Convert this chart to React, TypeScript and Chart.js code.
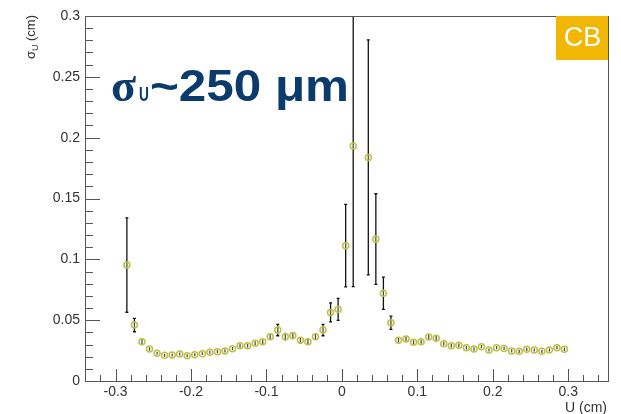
import { useEffect, useRef } from 'react';
import { Chart, registerables } from 'chart.js';

Chart.register(...registerables);

// ---- data ----
const uCenters = [
  -0.285, -0.275, -0.265, -0.255, -0.245, -0.235, -0.225, -0.215, -0.205, -0.195,
  -0.185, -0.175, -0.165, -0.155, -0.145, -0.135, -0.125, -0.115, -0.105, -0.095,
  -0.085, -0.075, -0.065, -0.055, -0.045, -0.035, -0.025, -0.015, -0.005, 0.005,
  0.015, 0.025, 0.035, 0.045, 0.055, 0.065, 0.075, 0.085, 0.095, 0.105,
  0.115, 0.125, 0.135, 0.145, 0.155, 0.165, 0.175, 0.185, 0.195, 0.205,
  0.215, 0.225, 0.235, 0.245, 0.255, 0.265, 0.275, 0.285, 0.295,
];
const sigmaU: (number | null)[] = [
  0.0953, 0.046, 0.0323, 0.0263, 0.0228, 0.0211, 0.0214, 0.0222, 0.0208, 0.0216,
  0.0225, 0.0236, 0.0241, 0.0247, 0.0266, 0.029, 0.029, 0.031, 0.0323, 0.0364,
  0.0419, 0.0364, 0.0373, 0.0334, 0.0323, 0.0364, 0.0419, 0.0564, 0.0589, 0.1112,
  0.1931, null, 0.1838, 0.1167, 0.0721, 0.0479, 0.0334, 0.0345, 0.0318, 0.0323,
  0.0362, 0.0351, 0.0307, 0.029, 0.0293, 0.0274, 0.0263, 0.0282, 0.0255, 0.0274,
  0.0268, 0.0247, 0.0244, 0.026, 0.0255, 0.0244, 0.0255, 0.0274, 0.026,
];
const sigmaErr = [
  0.0388, 0.0055, 0.002, 0.0015, 0.0012, 0.0012, 0.0012, 0.0012, 0.0012, 0.0012,
  0.0012, 0.0012, 0.0013, 0.0013, 0.0014, 0.0016, 0.0016, 0.0017, 0.0018, 0.0027,
  0.0047, 0.0033, 0.003, 0.0025, 0.0025, 0.0025, 0.0047, 0.0078, 0.009, 0.0339,
  0.1156, 0, 0.0966, 0.0372, 0.0133, 0.0054, 0.002, 0.002, 0.0017, 0.0017,
  0.002, 0.002, 0.0016, 0.0015, 0.0015, 0.0014, 0.0014, 0.0014, 0.0013, 0.0013,
  0.0013, 0.0013, 0.0013, 0.0013, 0.0013, 0.0013, 0.0013, 0.0014, 0.0014,
];
const xTickValues = [-0.3, -0.2, -0.1, 0, 0.1, 0.2, 0.3];
const yTickValues = [0, 0.05, 0.1, 0.15, 0.2, 0.25, 0.3];
const X_MIN = -0.3405;
const X_MAX = 0.3527;
const Y_MIN = 0;
const Y_MAX = 0.3;
const X_MINOR_STEP = 0.02;
const Y_MINOR_STEP = 0.01;

const FONT = '"Liberation Sans", Arial, Helvetica, sans-serif';
const AXIS_COLOR = '#555';
const TEXT_COLOR = '#333';

const fmt = (v: number) => {
  const r = Math.round(v * 1000) / 1000;
  return (Object.is(r, -0) ? 0 : r).toString();
};

const rootPlugin = {
  id: 'rootStyle',
  beforeDatasetsDraw(chart: any) {
    const ctx = chart.ctx as CanvasRenderingContext2D;
    const xs = chart.scales.x;
    const ys = chart.scales.y;
    const a = chart.chartArea;
    // error bars
    ctx.save();
    ctx.beginPath();
    ctx.rect(a.left, a.top, a.right - a.left, a.bottom - a.top);
    ctx.clip();
    ctx.strokeStyle = '#111';
    ctx.lineWidth = 1.3;
    uCenters.forEach((u, i) => {
      const v = sigmaU[i];
      if (v == null) return;
      const e = sigmaErr[i];
      const px = xs.getPixelForValue(u);
      const pHi = ys.getPixelForValue(v + e);
      const pLo = ys.getPixelForValue(v - e);
      ctx.beginPath();
      ctx.moveTo(px, pHi);
      ctx.lineTo(px, pLo);
      ctx.stroke();
      if (e > 0.004) {
        ctx.beginPath();
        ctx.moveTo(px - 1.5, pHi);
        ctx.lineTo(px + 1.5, pHi);
        ctx.moveTo(px - 1.5, pLo);
        ctx.lineTo(px + 1.5, pLo);
        ctx.stroke();
      }
    });
    ctx.restore();
  },
  afterDraw(chart: any) {
    const ctx = chart.ctx as CanvasRenderingContext2D;
    const xs = chart.scales.x;
    const ys = chart.scales.y;
    const a = chart.chartArea;
    ctx.save();
    // frame
    ctx.strokeStyle = AXIS_COLOR;
    ctx.lineWidth = 1;
    ctx.strokeRect(Math.round(a.left) + 0.5, Math.round(a.top) + 0.5, Math.round(a.right - a.left), Math.round(a.bottom - a.top));
    // x ticks (inside, pointing up)
    ctx.beginPath();
    const xStart = Math.ceil(X_MIN / X_MINOR_STEP) * X_MINOR_STEP;
    for (let v = xStart; v <= X_MAX + 1e-9; v += X_MINOR_STEP) {
      const isMajor = xTickValues.some((t) => Math.abs(t - v) < 1e-6);
      const px = Math.round(xs.getPixelForValue(v)) + 0.5;
      ctx.moveTo(px, a.bottom);
      ctx.lineTo(px, a.bottom - (isMajor ? 12 : 6));
    }
    // y ticks (inside, pointing right)
    for (let v = Y_MIN; v <= Y_MAX + 1e-9; v += Y_MINOR_STEP) {
      const isMajor = yTickValues.some((t) => Math.abs(t - v) < 1e-6);
      const py = Math.round(ys.getPixelForValue(v)) + 0.5;
      ctx.moveTo(a.left, py);
      ctx.lineTo(a.left + (isMajor ? 15 : 8), py);
    }
    ctx.stroke();

    // axis titles
    ctx.fillStyle = TEXT_COLOR;
    ctx.textBaseline = 'alphabetic';
    ctx.textAlign = 'right';
    ctx.font = `14px ${FONT}`;
    ctx.fillText('U (cm)', a.right - 1, 412);

    // y title rotated: σ_U (cm)
    ctx.save();
    ctx.translate(35, 15);
    ctx.rotate(-Math.PI / 2);
    ctx.textAlign = 'left';
    ctx.font = `13px ${FONT}`;
    const wSig = ctx.measureText('σ').width;
    ctx.font = `9px ${FONT}`;
    const wU = ctx.measureText('U').width;
    ctx.font = `13px ${FONT}`;
    const wRest = ctx.measureText(' (cm)').width;
    const total = wSig + wU + wRest;
    let x0 = -total;
    ctx.fillText('σ', x0, 0);
    x0 += wSig;
    ctx.font = `9px ${FONT}`;
    ctx.fillText('U', x0, 3);
    x0 += wU;
    ctx.font = `13px ${FONT}`;
    ctx.fillText(' (cm)', x0, 0);
    ctx.restore();

    // annotation σU~250 μm
    ctx.fillStyle = '#0b3a6d';
    ctx.textAlign = 'left';
    ctx.textBaseline = 'alphabetic';
    ctx.font = `bold 46px "Liberation Serif", "DejaVu Serif", serif`;
    ctx.fillText('σ', 111, 101);
    ctx.save();
    ctx.translate(139, 101);
    ctx.scale(0.65, 1);
    ctx.font = `bold 21px ${FONT}`;
    ctx.fillText('U', 0, 0);
    ctx.restore();
    ctx.save();
    ctx.font = `bold 44px ${FONT}`;
    const txt = '~250 μm';
    const w = ctx.measureText(txt).width;
    ctx.translate(150, 101);
    ctx.scale(199 / w, 1);
    ctx.fillText(txt, 0, 0);
    ctx.restore();

    // CB badge
    ctx.fillStyle = '#f2b705';
    ctx.fillRect(556, a.top, a.right - 556, 44);
    ctx.fillStyle = '#ffffff';
    ctx.textAlign = 'center';
    ctx.textBaseline = 'middle';
    ctx.font = `27px ${FONT}`;
    ctx.fillText('CB', 582.5, a.top + 23);
    ctx.restore();
  },
};

export default function App() {
  const ref = useRef<HTMLCanvasElement>(null);
  useEffect(() => {
    const data = uCenters
      .map((u, i) => ({ x: u, y: sigmaU[i] }))
      .filter((p) => p.y != null) as { x: number; y: number }[];
    const chart = new Chart(ref.current!, {
      type: 'scatter',
      data: {
        datasets: [
          {
            data,
            pointRadius: 3,
            pointHoverRadius: 3,
            pointBorderWidth: 1.5,
            pointBorderColor: '#bfbf45',
            pointBackgroundColor: 'rgba(255,255,255,0.25)',
            showLine: false,
          },
        ],
      },
      options: {
        animation: false,
        responsive: false,
        devicePixelRatio: 1,
        events: [],
        layout: { padding: { top: 16, right: 13, left: 0, bottom: 0 } },
        plugins: { legend: { display: false }, tooltip: { enabled: false } },
        scales: {
          x: {
            type: 'linear',
            min: X_MIN,
            max: X_MAX,
            grid: { display: false, drawTicks: false },
            border: { display: false },
            afterBuildTicks: (s: any) => {
              s.ticks = xTickValues.map((v) => ({ value: v }));
            },
            afterFit: (s: any) => {
              s.height = 33;
            },
            ticks: {
              autoSkip: false,
              maxRotation: 0,
              padding: 3,
              color: TEXT_COLOR,
              font: { family: FONT, size: 14 },
              callback: (v: any) => fmt(Number(v)),
            },
          },
          y: {
            type: 'linear',
            min: Y_MIN,
            max: Y_MAX,
            grid: { display: false, drawTicks: false },
            border: { display: false },
            afterBuildTicks: (s: any) => {
              s.ticks = yTickValues.map((v) => ({ value: v }));
            },
            afterFit: (s: any) => {
              s.width = 85;
            },
            ticks: {
              autoSkip: false,
              padding: 5,
              color: TEXT_COLOR,
              font: { family: FONT, size: 14 },
              callback: (v: any) => fmt(Number(v)),
            },
          },
        },
      },
      plugins: [rootPlugin],
    });
    return () => chart.destroy();
  }, []);
  return (
    <div style={{ position: 'fixed', left: 0, top: 0, width: 621, height: 414, background: '#fff' }}>
      <canvas ref={ref} width={621} height={414} style={{ display: 'block', width: 621, height: 414 }} />
    </div>
  );
}
